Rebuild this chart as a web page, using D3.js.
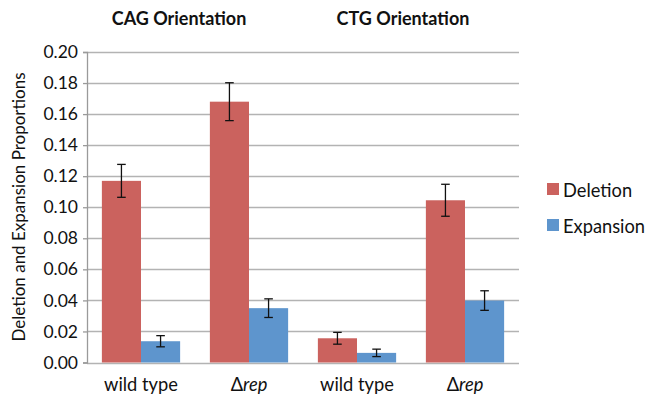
<!DOCTYPE html>
<html>
<head>
<meta charset="utf-8">
<script src="https://cdn.jsdelivr.net/npm/d3@7"></script>
<style>
  html, body { margin: 0; padding: 0; background: #fff; }
  svg { display: block; font-family: Lato, "Open Sans", sans-serif; }
</style>
</head>
<body>
<svg id="chart" width="647" height="398"></svg>
<script>
// Strain groups along the x axis
const categories = ["wt-CAG", "rep-CAG", "wt-CTG", "rep-CTG"];
const categoryLabels = [
  { plain: "wild type" },
  { delta: true },
  { plain: "wild type" },
  { delta: true }
];
const orientationTitles = ["CAG Orientation", "CTG Orientation"];
const seriesNames = ["Deletion", "Expansion"];
const deletion = [0.117, 0.168, 0.0156, 0.1045];
const deletionErr = [0.0106, 0.0122, 0.0038, 0.0103];
const expansion = [0.0137, 0.035, 0.0062, 0.0399];
const expansionErr = [0.0036, 0.006, 0.0024, 0.0063];
const yTicks = [0, 0.02, 0.04, 0.06, 0.08, 0.10, 0.12, 0.14, 0.16, 0.18, 0.20];

const colors = { Deletion: "#CB625E", Expansion: "#5E95CD" };

const svg = d3.select("#chart");
const margin = { left: 87, right: 128, top: 52, bottom: 35.5 };
const W = 647, H = 398;

const x0 = d3.scaleBand().domain(categories).range([margin.left, W - margin.right]).paddingInner(0).paddingOuter(0);
const x1 = d3.scaleBand().domain(seriesNames).range([0, x0.bandwidth()]).paddingInner(0).paddingOuter(0.38);
const y = d3.scaleLinear().domain([0, 0.2]).range([H - margin.bottom, margin.top]);

// gridlines
svg.append("g")
  .selectAll("line")
  .data(yTicks)
  .join("line")
  .attr("x1", margin.left).attr("x2", W - margin.right)
  .attr("y1", d => Math.round(y(d)) + 0.5).attr("y2", d => Math.round(y(d)) + 0.5)
  .attr("stroke", "#b3b3b3").attr("stroke-width", 1.3);

// y axis
const yAxis = svg.append("g")
  .attr("transform", `translate(${margin.left},0)`)
  .call(d3.axisLeft(y).tickValues(yTicks).tickFormat(d3.format(".2f")).tickSize(4).tickPadding(5));
yAxis.select(".domain").attr("stroke", "#9a9a9a").attr("stroke-width", 1.3);
yAxis.selectAll(".tick line").attr("stroke", "#9a9a9a").attr("stroke-width", 1.3);
yAxis.selectAll(".tick text").attr("font-size", 17.5).attr("fill", "#111").attr("font-family", "Lato, sans-serif");

// bars
const rows = categories.map((c, i) => ({
  cat: c,
  items: [
    { series: "Deletion", value: deletion[i], err: deletionErr[i] },
    { series: "Expansion", value: expansion[i], err: expansionErr[i] }
  ]
}));

const groups = svg.append("g").selectAll("g")
  .data(rows)
  .join("g")
  .attr("transform", d => `translate(${x0(d.cat)},0)`);

groups.selectAll("rect")
  .data(d => d.items)
  .join("rect")
  .attr("x", d => x1(d.series))
  .attr("width", x1.bandwidth())
  .attr("y", d => y(d.value))
  .attr("height", d => y(0) - y(d.value))
  .attr("fill", d => colors[d.series]);

// error bars
const eb = groups.selectAll("g.err")
  .data(d => d.items)
  .join("g")
  .attr("class", "err")
  .attr("stroke", "#111")
  .attr("stroke-width", 1.3);
const capW = 4.3;
eb.append("line")
  .attr("x1", d => x1(d.series) + x1.bandwidth() / 2)
  .attr("x2", d => x1(d.series) + x1.bandwidth() / 2)
  .attr("y1", d => y(d.value + d.err))
  .attr("y2", d => y(d.value - d.err));
eb.append("line")
  .attr("x1", d => x1(d.series) + x1.bandwidth() / 2 - capW)
  .attr("x2", d => x1(d.series) + x1.bandwidth() / 2 + capW)
  .attr("y1", d => y(d.value + d.err))
  .attr("y2", d => y(d.value + d.err));
eb.append("line")
  .attr("x1", d => x1(d.series) + x1.bandwidth() / 2 - capW)
  .attr("x2", d => x1(d.series) + x1.bandwidth() / 2 + capW)
  .attr("y1", d => y(d.value - d.err))
  .attr("y2", d => y(d.value - d.err));

// category labels
const catText = svg.append("g").selectAll("text")
  .data(categories)
  .join("text")
  .attr("x", d => x0(d) + x0.bandwidth() / 2)
  .attr("y", 391)
  .attr("text-anchor", "middle")
  .attr("font-size", 18.3)
  .attr("fill", "#111");
catText.each(function (d, i) {
  const t = d3.select(this);
  const lab = categoryLabels[i];
  if (lab.delta) {
    t.append("tspan").text("\u0394");
    t.append("tspan").attr("font-style", "italic").text("rep");
  } else {
    t.text(lab.plain);
  }
});

// orientation titles over each pair of groups
const titleCenters = [
  (x0(categories[0]) + x0(categories[1]) + x0.bandwidth()) / 2,
  (x0(categories[2]) + x0(categories[3]) + x0.bandwidth()) / 2
];
svg.append("g").selectAll("text")
  .data(orientationTitles)
  .join("text")
  .attr("x", (d, i) => titleCenters[i] - 16 + 8 * i)
  .attr("y", 25)
  .attr("text-anchor", "middle")
  .attr("font-size", 18)
  .attr("font-weight", "bold")
  .attr("fill", "#111")
  .text(d => d);

// y axis title
svg.append("text")
  .attr("transform", `translate(25,${207}) rotate(-90)`)
  .attr("text-anchor", "middle")
  .attr("font-size", 17)
  .attr("fill", "#111")
  .text("Deletion and Expansion Proportions");

// legend
const legend = svg.append("g").selectAll("g")
  .data(seriesNames)
  .join("g")
  .attr("transform", (d, i) => `translate(547,${183 + i * 36})`);
legend.append("rect").attr("width", 12).attr("height", 12).attr("fill", d => colors[d]);
legend.append("text")
  .attr("x", 16).attr("y", 13.5)
  .attr("font-size", 18.3)
  .attr("fill", "#111")
  .text(d => d);
</script>
</body>
</html>
